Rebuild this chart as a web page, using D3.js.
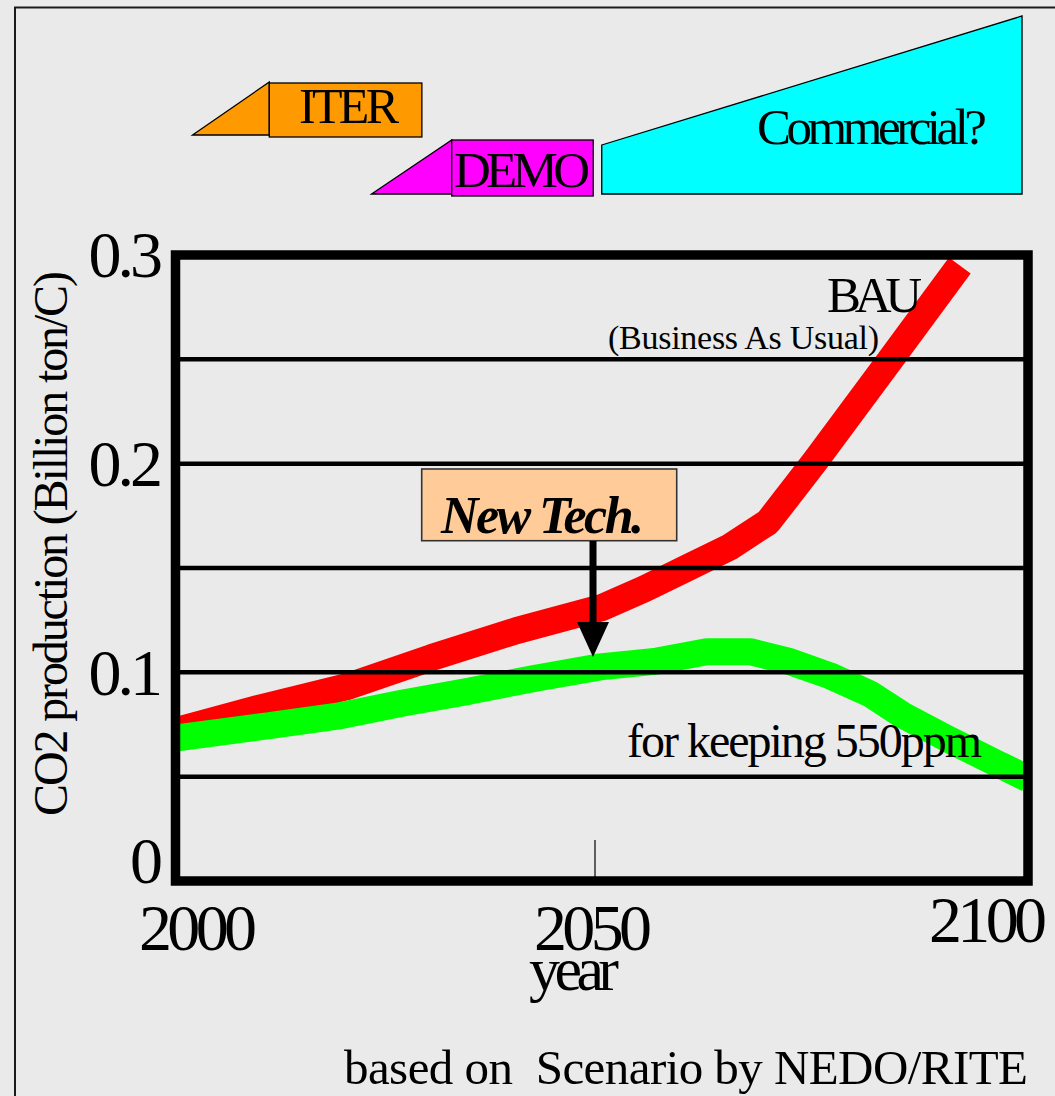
<!DOCTYPE html>
<html>
<head>
<meta charset="utf-8">
<script src="https://cdn.jsdelivr.net/npm/d3@7"></script>
<style>
  html, body { margin: 0; padding: 0; background: #eaeaea; }
  svg { display: block; font-family: "Liberation Serif", "Times New Roman", serif; }
</style>
</head>
<body>
<svg id="chart" width="1055" height="1096"></svg>
<script>
// CO2 production, business-as-usual path (billion ton C)
const bauYears  = [2000, 2010, 2020, 2030, 2040, 2050, 2055, 2060, 2065, 2069.5, 2075, 2083.7, 2092];
const bauValues = [0.072, 0.083, 0.093, 0.107, 0.120, 0.131, 0.140, 0.150, 0.160, 0.172, 0.201, 0.249, 0.295];

// CO2 production path for keeping 550ppm
const stabYears  = [2000, 2011, 2019, 2026.7, 2034.5, 2042.4, 2049.8, 2056.5, 2062.3, 2067.4, 2072.1, 2076.8, 2081.5, 2085.3, 2090.8, 2096.7, 2100];
const stabValues = [0.0685, 0.0745, 0.079, 0.0853, 0.091, 0.0973, 0.1026, 0.1054, 0.1099, 0.1099, 0.1051, 0.0983, 0.0896, 0.0795, 0.0676, 0.0556, 0.049];

// axis ticks
const yTickValues = [0, 0.1, 0.2, 0.3];
const yGridValues = [0.05, 0.1, 0.15, 0.2, 0.25];
const xTickValues = [2000, 2050, 2100];

// fusion development phases (years)
const phaseNames = ["ITER", "DEMO", "Commercial?"];
const phaseRamp  = [2002, 2023, 2050];
const phaseStart = [2011, 2032.4, 2050];
const phaseEnd   = [2028.9, 2049, 2099.3];
const phaseColors = ["#ff9900", "#ff00ff", "#00ffff"];

const svg = d3.select("#chart");
const W = 1055, H = 1096;

// plot frame
const plotL = 175.5, plotR = 1028, plotT = 255, plotB = 881;

const x = d3.scaleLinear().domain([2000, 2100]).range([plotL, plotR]);
const y = d3.scaleLinear().domain([0, 0.3]).range([plotB, plotT]);
// tick labels under the frame sit on their own spacing
const xLabel = d3.scaleLinear().domain([2000, 2100]).range([197.5, 987.5]);

svg.append("rect").attr("width", W).attr("height", H).attr("fill", "#eaeaea");

// outer panel border
svg.append("rect")
  .attr("x", 15).attr("y", 7.5).attr("width", 1200).attr("height", 1200)
  .attr("fill", "none").attr("stroke", "#1a1a1a").attr("stroke-width", 2);

// ---- development phases along the top ----
const phases = phaseNames.map((name, i) => ({
  name, ramp: phaseRamp[i], start: phaseStart[i], end: phaseEnd[i], color: phaseColors[i]
}));
const phaseBands = [
  { rampTop: 82, rampBottom: 135, boxTop: 83, boxBottom: 137 },
  { rampTop: 140, rampBottom: 194, boxTop: 140, boxBottom: 196 },
  { rampTop: 145, rampBottom: 194, boxTop: 16, boxBottom: 194 }
];
const phaseG = svg.append("g");
phases.forEach((p, i) => {
  const b = phaseBands[i];
  if (i < 2) {
    phaseG.append("polygon")
      .attr("points", [[x(p.ramp), b.rampBottom], [x(p.start), b.rampTop], [x(p.start), b.rampBottom]].join(" "))
      .attr("fill", p.color).attr("stroke", "#000").attr("stroke-width", 1.3);
    phaseG.append("rect")
      .attr("x", x(p.start)).attr("y", b.boxTop)
      .attr("width", x(p.end) - x(p.start)).attr("height", b.boxBottom - b.boxTop)
      .attr("fill", p.color).attr("stroke", "#000").attr("stroke-width", 1.3);
  } else {
    phaseG.append("polygon")
      .attr("points", [[x(p.start), b.rampTop], [x(p.end), b.boxTop], [x(p.end), b.boxBottom], [x(p.start), b.boxBottom]].join(" "))
      .attr("fill", p.color).attr("stroke", "#000").attr("stroke-width", 1.3);
  }
});

function label(g, txt, opts) {
  const t = g.append("text")
    .attr("x", opts.x).attr("y", opts.y)
    .attr("font-size", opts.size)
    .attr("fill", "#000")
    .attr("text-anchor", opts.anchor || "start")
    .style("white-space", "pre")
    .text(txt);
  if (opts.len) t.attr("textLength", opts.len).attr("lengthAdjust", "spacing");
  if (opts.weight) t.attr("font-weight", opts.weight);
  if (opts.italic) t.attr("font-style", "italic");
  if (opts.transform) t.attr("transform", opts.transform);
  return t;
}

label(phaseG, "ITER", { x: 299, y: 123, size: 50, len: 100 });
label(phaseG, "DEMO", { x: 454, y: 187, size: 51, len: 136 });
label(phaseG, "Commercial?", { x: 757, y: 144, size: 51, len: 230 });

// ---- plot ----
svg.append("clipPath").attr("id", "plotClip")
  .append("rect").attr("x", plotL).attr("y", plotT).attr("width", plotR - plotL).attr("height", plotB - plotT);

const plot = svg.append("g").attr("clip-path", "url(#plotClip)");

const line = d3.line().x(d => x(d[0])).y(d => y(d[1]));
const bau = bauYears.map((yr, i) => [yr, bauValues[i]]);
const stab = stabYears.map((yr, i) => [yr, stabValues[i]]);

plot.append("path").datum(bau).attr("d", line)
  .attr("fill", "none").attr("stroke", "#ff0000").attr("stroke-width", 27)
  .attr("stroke-linecap", "butt").attr("stroke-linejoin", "bevel");
plot.append("path").datum(stab).attr("d", line)
  .attr("fill", "none").attr("stroke", "#00ff00").attr("stroke-width", 27)
  .attr("stroke-linecap", "butt").attr("stroke-linejoin", "bevel");

// horizontal grid lines
plot.selectAll("line.grid").data(yGridValues).join("line")
  .attr("class", "grid")
  .attr("x1", plotL).attr("x2", plotR)
  .attr("y1", d => y(d)).attr("y2", d => y(d))
  .attr("stroke", "#000").attr("stroke-width", 4.5);

// 2050 tick rising from the bottom edge
svg.append("line")
  .attr("x1", xLabel(2050) + 2.5).attr("x2", xLabel(2050) + 2.5)
  .attr("y1", plotB - 41).attr("y2", plotB)
  .attr("stroke", "#000").attr("stroke-width", 1.2);

// frame
svg.append("rect")
  .attr("x", plotL).attr("y", plotT).attr("width", plotR - plotL).attr("height", plotB - plotT)
  .attr("fill", "none").attr("stroke", "#000").attr("stroke-width", 9.5);

// y axis labels
const yAxis = d3.axisLeft(y).tickValues(yTickValues).tickSize(0).tickPadding(0)
  .tickFormat(d => d === 0 ? "0" : d3.format(".1f")(d));
const yg = svg.append("g").attr("transform", "translate(159,0)").call(yAxis);
yg.select(".domain").remove();
yg.attr("font-family", null).attr("font-size", 66);
yg.selectAll("text")
  .attr("fill", "#000")
  .attr("letter-spacing", -4)
  .attr("dy", d => d === 0 ? "0.02em" : "0.33em");

// x axis labels
const xAxis = d3.axisBottom(xLabel).tickValues(xTickValues).tickSize(0).tickPadding(0)
  .tickFormat(d3.format("d"));
const xg = svg.append("g").attr("transform", "translate(0,950)").call(xAxis);
xg.select(".domain").remove();
xg.attr("font-family", null).attr("font-size", 66);
xg.selectAll("text")
  .attr("fill", "#000")
  .attr("y", 0)
  .attr("dy", d => d === 2100 ? -8 : 0)
  .attr("textLength", 118).attr("lengthAdjust", "spacing");

// axis titles
label(svg, "CO2 production (Billion ton/C)", { x: 0, y: 0, size: 48, anchor: "middle", len: 545,
  transform: "translate(67,543.5) rotate(-90)" });
label(svg, "year", { x: 529, y: 990, size: 62, len: 90 });

// series captions
label(svg, "BAU", { x: 827, y: 312, size: 51, len: 95 });
label(svg, "(Business As Usual)", { x: 608, y: 349, size: 34, len: 271 });
label(svg, "for keeping 550ppm", { x: 627, y: 757, size: 48, len: 355 });

// "New Tech." annotation with arrow down to the 550ppm path
const ax = xLabel(2050) + 0.5;
svg.append("rect")
  .attr("x", 421.7).attr("y", 469).attr("width", 255).attr("height", 71.7)
  .attr("fill", "#ffcc99").attr("stroke", "#333").attr("stroke-width", 1.6);
label(svg, "New Tech.", { x: 441, y: 533, size: 52, weight: "bold", italic: true, len: 203 });
svg.append("line")
  .attr("x1", ax).attr("x2", ax).attr("y1", 541).attr("y2", 624)
  .attr("stroke", "#000").attr("stroke-width", 7);
svg.append("polygon")
  .attr("points", [[ax - 16, 622], [ax + 16, 622], [ax, 657]].join(" "))
  .attr("fill", "#000");

// source note
label(svg, "based on  Scenario by NEDO/RITE", { x: 344, y: 1084, size: 49, len: 684 });
</script>
</body>
</html>
